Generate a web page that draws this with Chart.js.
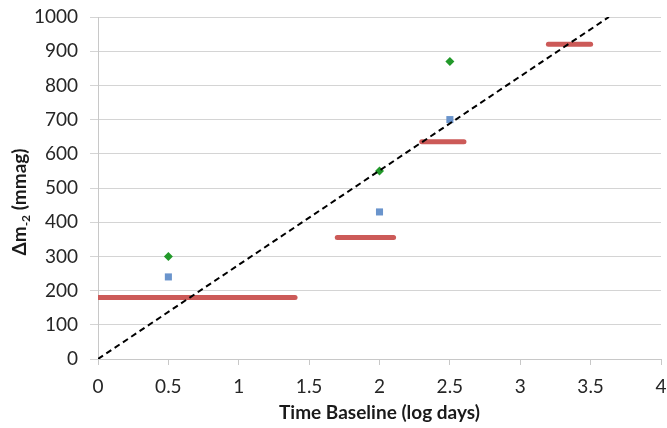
<!DOCTYPE html>
<html>
<head>
<meta charset="utf-8">
<script src="https://cdn.jsdelivr.net/npm/chart.js@4/dist/chart.umd.min.js"></script>
<style>
  html, body { margin: 0; padding: 0; background: #fff; }
  #wrap { width: 667px; height: 428px; }
</style>
</head>
<body>
<div id="wrap"><canvas id="grafico" width="667" height="428"></canvas></div>
<script>
// horizontal bars (time baseline ranges)
const segStart = [0, 1.7, 2.3, 3.2];
const segEnd = [1.4, 2.1, 2.6, 3.5];
const segY = [180, 355, 635, 920];

// blue squares
const blueX = [0.5, 2, 2.5];
const blueY = [240, 430, 700];

// green diamonds
const greenX = [0.5, 2, 2.5];
const greenY = [300, 550, 870];

// dashed fit line
const fitX = [0, 3.63];
const fitY = [0, 1000];

const xTicks = [0, 0.5, 1, 1.5, 2, 2.5, 3, 3.5, 4];
const yTicks = [0, 100, 200, 300, 400, 500, 600, 700, 800, 900, 1000];

const FONT = "Lato, 'Open Sans', sans-serif";

const pts = (xs, ys) => xs.map((x, i) => ({ x: x, y: ys[i] }));

const datasets = [];

datasets.push({
  data: pts(fitX, fitY),
  showLine: true,
  borderColor: "#000",
  borderWidth: 2,
  borderDash: [6, 4],
  pointRadius: 0,
  order: 0
});

datasets.push({
  data: pts(greenX, greenY),
  pointStyle: "rectRot",
  pointRadius: 4.5,
  backgroundColor: "#22992a",
  borderColor: "#22992a",
  borderWidth: 0,
  order: 1
});

datasets.push({
  data: pts(blueX, blueY),
  pointStyle: "rect",
  pointRadius: 5,
  backgroundColor: "#6a94cc",
  borderColor: "#6a94cc",
  borderWidth: 0,
  order: 2
});

segY.forEach((y, i) => {
  datasets.push({
    data: [{ x: segStart[i], y: y }, { x: segEnd[i], y: y }],
    showLine: true,
    borderColor: "#cc5a58",
    borderWidth: 5,
    borderCapStyle: "round",
    pointRadius: 0,
    order: 3
  });
});

// y axis title with subscript
const yTitlePlugin = {
  id: "yTitle",
  afterDraw(chart) {
    const ctx = chart.ctx;
    const big = "bold 19px " + FONT;
    const small = "bold 12px " + FONT;
    ctx.save();
    ctx.font = big;
    const w1 = ctx.measureText("\u0394m").width;
    const w3 = ctx.measureText(" (mmag)").width;
    ctx.font = small;
    const w2 = ctx.measureText("-2").width;
    const total = w1 + w2 + w3;
    ctx.translate(20, 202);
    ctx.rotate(-Math.PI / 2);
    ctx.fillStyle = "#1a1a1a";
    ctx.textBaseline = "middle";
    let x = -total / 2;
    ctx.font = big;
    ctx.fillText("\u0394m", x, 0);
    x += w1;
    ctx.font = small;
    ctx.fillText("-2", x, 6);
    x += w2;
    ctx.font = big;
    ctx.fillText(" (mmag)", x, 0);
    ctx.restore();
  }
};

new Chart(document.getElementById("grafico"), {
  type: "scatter",
  data: { datasets: datasets },
  plugins: [yTitlePlugin],
  options: {
    responsive: false,
    animation: false,
    layout: { padding: { top: 17, right: 6, left: 0, bottom: 0 } },
    plugins: { legend: { display: false }, tooltip: { enabled: false } },
    scales: {
      x: {
        type: "linear",
        min: 0,
        max: 4,
        afterBuildTicks: (s) => { s.ticks = xTicks.map(v => ({ value: v })); },
        afterFit: (s) => { s.height = 69; s.paddingLeft = 0; s.paddingRight = 0; },
        grid: { display: true, drawOnChartArea: false, color: "#c8c8c8", tickLength: 6 },
        border: { color: "#c8c8c8", width: 1 },
        ticks: {
          color: "#262626",
          font: { family: FONT, size: 19 },
          padding: 10,
          maxRotation: 0,
          callback: (v) => String(v)
        },
        title: {
          display: true,
          text: "Time Baseline (log days)",
          color: "#1a1a1a",
          font: { family: FONT, size: 19, weight: "bold" },
          padding: { top: 0, bottom: 4 }
        }
      },
      y: {
        type: "linear",
        min: 0,
        max: 1000,
        afterBuildTicks: (s) => { s.ticks = yTicks.map(v => ({ value: v })); },
        afterFit: (s) => { s.width = 98; s.paddingTop = 0; s.paddingBottom = 0; },
        grid: { color: "#d4d4d4", lineWidth: 1, tickLength: 8 },
        border: { color: "#c8c8c8", width: 1 },
        ticks: {
          color: "#262626",
          font: { family: FONT, size: 19 },
          padding: 12,
          callback: (v) => String(v)
        }
      }
    }
  }
});
</script>
</body>
</html>
